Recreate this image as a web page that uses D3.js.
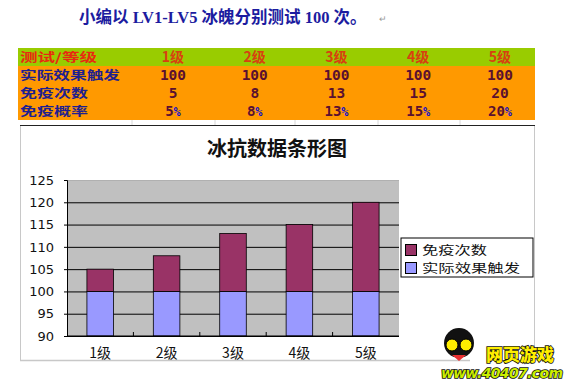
<!DOCTYPE html>
<html>
<head>
<meta charset="utf-8">
<script src="https://cdn.jsdelivr.net/npm/d3@7"></script>
<style>
  body { margin: 0; background: #fff; }
  svg { display: block; }
</style>
</head>
<body>
<script>
// data
var levels = ["1级", "2级", "3级", "4级", "5级"];
var triggerCounts = [100, 100, 100, 100, 100];   // 实际效果触发
var immuneCounts = [5, 8, 13, 15, 20];            // 免疫次数
var immuneRates = [5, 8, 13, 15, 20];             // 免疫概率 (%)
var yTicks = [90, 95, 100, 105, 110, 115, 120, 125];
var seriesNames = ["免疫次数", "实际效果触发"];
var seriesColors = ["#993366", "#9999ff"];

var W = 569, H = 381;
var cjk = "'Noto Sans CJK SC', 'Noto Sans', sans-serif";

var svg = d3.select("body")
  .append("svg")
    .attr("width", W)
    .attr("height", H);

svg.append("rect").attr("width", W).attr("height", H).attr("fill", "#fff");

// heading line above the table
svg.append("text")
  .attr("x", 79)
  .attr("y", 23)
  .style("font-family", "'Liberation Serif', 'Noto Sans CJK SC', serif")
  .style("font-weight", "bold")
  .style("font-size", "16.5px")
  .attr("fill", "#1c1ca0")
  .text("小编以 LV1-LV5 冰魄分别测试 100 次。");
svg.append("text")
  .attr("x", 379).attr("y", 22)
  .style("font-family", cjk).style("font-size", "9px")
  .attr("fill", "#999").text("↵");

// ---- table ----
var tableLeft = 18, tableRight = 535;
var colX = d3.scalePoint()
  .domain(levels)
  .range([173, 500]);

var rows = [
  {label: "测试/等级", y0: 48, y1: 66, fill: "#99cc00"},
  {label: "实际效果触发", y0: 66, y1: 84, fill: "#ff9900"},
  {label: "免疫次数", y0: 84, y1: 102, fill: "#ff9900"},
  {label: "免疫概率", y0: 102, y1: 120, fill: "#ff9900"}
];

svg.selectAll("rect.row")
  .data(rows)
  .enter()
  .append("rect")
    .attr("class", "row")
    .attr("x", tableLeft)
    .attr("y", function(d) { return d.y0; })
    .attr("width", tableRight - tableLeft)
    .attr("height", function(d) { return d.y1 - d.y0; })
    .attr("fill", function(d) { return d.fill; });

svg.selectAll("text.rowlabel")
  .data(rows)
  .enter()
  .append("text")
    .attr("class", "rowlabel")
    .attr("x", 20)
    .attr("y", function(d) { return (d.y0 + d.y1) / 2 + 4.5; })
    .style("font-family", cjk)
    .style("font-weight", "bold")
    .style("font-size", "12px")
    .attr("textLength", function(d, i) { return [77, 100, 68, 68][i]; })
    .attr("lengthAdjust", "spacingAndGlyphs")
    .attr("fill", function(d, i) { return i == 0 ? "#e82a10" : "#1f1f8f"; })
    .text(function(d) { return d.label; });

function cellY(r) { return (rows[r].y0 + rows[r].y1) / 2 + 5; }

// header levels
svg.selectAll("text.head")
  .data(levels)
  .enter()
  .append("text")
    .attr("class", "head")
    .attr("x", function(d) { return colX(d); })
    .attr("y", cellY(0))
    .attr("text-anchor", "middle")
    .style("font-family", cjk)
    .style("font-weight", "bold")
    .style("font-size", "14px")
    .attr("fill", "#d84010")
    .text(function(d) { return d; });

var valueRows = [triggerCounts, immuneCounts];
valueRows.forEach(function(vals, r) {
  svg.selectAll("text.v" + r)
    .data(vals)
    .enter()
    .append("text")
      .attr("x", function(d, i) { return colX(levels[i]); })
      .attr("y", cellY(r + 1))
      .attr("text-anchor", "middle")
      .style("font-family", "'DejaVu Sans Mono', monospace")
      .style("font-weight", "bold")
      .style("font-size", "14.5px")
      .attr("fill", "#5a1030")
      .text(function(d) { return d; });
});

var pct = svg.selectAll("text.pct")
  .data(immuneRates)
  .enter()
  .append("text")
    .attr("x", function(d, i) { return colX(levels[i]); })
    .attr("y", cellY(3))
    .attr("text-anchor", "middle")
    .style("font-family", "'DejaVu Sans Mono', monospace")
    .style("font-weight", "bold")
    .style("font-size", "14px");
pct.append("tspan").attr("fill", "#5a1030").text(function(d) { return d; });
pct.append("tspan").attr("fill", "#1010d0").style("font-size", "12px").text("%");

// faint grid row under the table
svg.selectAll("line.sep")
  .data([132, 215, 295, 378, 460])
  .enter()
  .append("line")
    .attr("x1", function(d) { return d; }).attr("x2", function(d) { return d; })
    .attr("y1", 120).attr("y2", 125)
    .attr("stroke", "#d8d8d8");
svg.append("line")
  .attr("x1", 20).attr("x2", tableRight)
  .attr("y1", 125.5).attr("y2", 125.5)
  .attr("stroke", "#222").attr("stroke-width", 1.2);

// ---- chart frame ----
svg.append("line")
  .attr("x1", 20.5).attr("x2", 20.5).attr("y1", 126).attr("y2", 361)
  .attr("stroke", "#c8c8c8");
svg.append("line")
  .attr("x1", 534.5).attr("x2", 534.5).attr("y1", 126).attr("y2", 357)
  .attr("stroke", "#c8c8c8");
svg.append("line")
  .attr("x1", 20).attr("x2", 470).attr("y1", 360.5).attr("y2", 360.5)
  .attr("stroke", "#c8c8c8").attr("stroke-width", 1.5);

svg.append("text")
  .attr("x", 277)
  .attr("y", 156)
  .attr("text-anchor", "middle")
  .style("font-family", cjk)
  .style("font-weight", "bold")
  .style("font-size", "20px")
  .attr("fill", "#111")
  .text("冰抗数据条形图");

// ---- plot ----
var plot = {left: 67, right: 399, top: 180, bottom: 336};

var x = d3.scaleBand()
  .domain(levels)
  .range([plot.left, plot.right])
  .paddingInner(0.6)
  .paddingOuter(0.3);

var y = d3.scaleLinear()
  .domain([90, 125])
  .range([plot.bottom, plot.top]);

svg.append("rect")
  .attr("x", plot.left).attr("y", plot.top)
  .attr("width", plot.right - plot.left)
  .attr("height", plot.bottom - plot.top)
  .attr("fill", "#c0c0c0");

// gridlines
svg.append("g")
  .attr("transform", "translate(" + plot.left + ",0)")
  .call(d3.axisLeft(y).tickValues(yTicks).tickSize(-(plot.right - plot.left)).tickFormat(""))
  .call(function(g) { g.select(".domain").remove(); })
  .call(function(g) {
    g.selectAll(".tick line")
      .attr("stroke", function(d) { return d == 125 ? "#b0b0b0" : "#000"; });
  });

// stacked bars
var stackData = levels.map(function(l, i) {
  return {level: l, trigger: triggerCounts[i], immune: immuneCounts[i]};
});

svg.append("g")
  .selectAll("rect")
  .data(stackData)
  .enter()
  .append("rect")
    .attr("x", function(d) { return x(d.level); })
    .attr("y", function(d) { return y(d.trigger); })
    .attr("width", x.bandwidth())
    .attr("height", function(d) { return y(90) - y(d.trigger); })
    .attr("fill", seriesColors[1])
    .attr("stroke", "#000")
    .attr("stroke-width", 0.8);

svg.append("g")
  .selectAll("rect")
  .data(stackData)
  .enter()
  .append("rect")
    .attr("x", function(d) { return x(d.level); })
    .attr("y", function(d) { return y(d.trigger + d.immune); })
    .attr("width", x.bandwidth())
    .attr("height", function(d) { return y(d.trigger) - y(d.trigger + d.immune); })
    .attr("fill", seriesColors[0])
    .attr("stroke", "#000")
    .attr("stroke-width", 0.8);

// y axis
svg.append("g")
  .attr("transform", "translate(" + plot.left + ",0)")
  .call(d3.axisLeft(y).tickValues(yTicks).tickSize(3).tickPadding(10))
  .call(function(g) {
    g.select(".domain").attr("stroke", "#000");
    g.selectAll("text")
      .style("font-family", "'DejaVu Sans', sans-serif")
      .style("font-size", "13px")
      .attr("fill", "#111");
  });

// x axis: ticks sit between categories
var bandStep = (plot.right - plot.left) / levels.length;
var xAxis = svg.append("g")
  .attr("transform", "translate(0," + plot.bottom + ")");
xAxis.append("line")
  .attr("x1", plot.left).attr("x2", plot.right)
  .attr("stroke", "#000").attr("stroke-width", 1.2);
xAxis.selectAll("line.tk")
  .data(d3.range(1, levels.length))
  .enter()
  .append("line")
    .attr("x1", function(i) { return plot.left + i * bandStep; })
    .attr("x2", function(i) { return plot.left + i * bandStep; })
    .attr("y1", -4).attr("y2", 0)
    .attr("stroke", "#000");
xAxis.selectAll("text")
  .data(levels)
  .enter()
  .append("text")
    .attr("x", function(d) { return x(d) + x.bandwidth() / 2; })
    .attr("y", 22)
    .attr("text-anchor", "middle")
    .style("font-family", cjk)
    .style("font-size", "14px")
    .attr("fill", "#111")
    .text(function(d) { return d; });

// legend
var legend = svg.append("g").attr("transform", "translate(401,238)");
legend.append("rect")
  .attr("width", 132).attr("height", 39)
  .attr("fill", "#fff").attr("stroke", "#000");
legend.selectAll("rect.sw")
  .data(seriesNames)
  .enter()
  .append("rect")
    .attr("x", 4.5)
    .attr("y", function(d, i) { return 6.5 + i * 18; })
    .attr("width", 11).attr("height", 11)
    .attr("fill", function(d, i) { return seriesColors[i]; })
    .attr("stroke", "#000");
legend.selectAll("text")
  .data(seriesNames)
  .enter()
  .append("text")
    .attr("x", 21)
    .attr("y", function(d, i) { return 16.5 + i * 18; })
    .style("font-family", cjk)
    .style("font-size", "12px")
    .attr("textLength", function(d, i) { return [65, 98][i]; })
    .attr("lengthAdjust", "spacingAndGlyphs")
    .attr("fill", "#111")
    .text(function(d) { return d; });

// watermark logo (bottom right)
var logo = svg.append("g");
logo.append("circle").attr("cx", 459).attr("cy", 343).attr("r", 15).attr("fill", "#111");
logo.append("circle").attr("cx", 452).attr("cy", 345).attr("r", 6).attr("fill", "#ffee00").attr("stroke", "#000");
logo.append("circle").attr("cx", 466).attr("cy", 345).attr("r", 6).attr("fill", "#ffee00").attr("stroke", "#000");
logo.append("path").attr("d", "M452,355 L466,355 L459,361 Z").attr("fill", "#e83030");
logo.append("text")
  .attr("x", 486).attr("y", 361)
  .style("font-family", cjk).style("font-weight", "900").style("font-size", "17px")
  .attr("fill", "#ffee00").attr("stroke", "#111").attr("stroke-width", 1.6)
  .attr("paint-order", "stroke")
  .text("网页游戏");
logo.append("text")
  .attr("x", 441).attr("y", 378)
  .style("font-family", "'DejaVu Sans', sans-serif").style("font-weight", "bold")
  .style("font-size", "14px").style("font-style", "italic")
  .attr("textLength", 122)
  .attr("fill", "#ccee00").attr("stroke", "#111").attr("stroke-width", 1.6)
  .attr("paint-order", "stroke")
  .text("www.40407.com");
</script>
</body>
</html>
